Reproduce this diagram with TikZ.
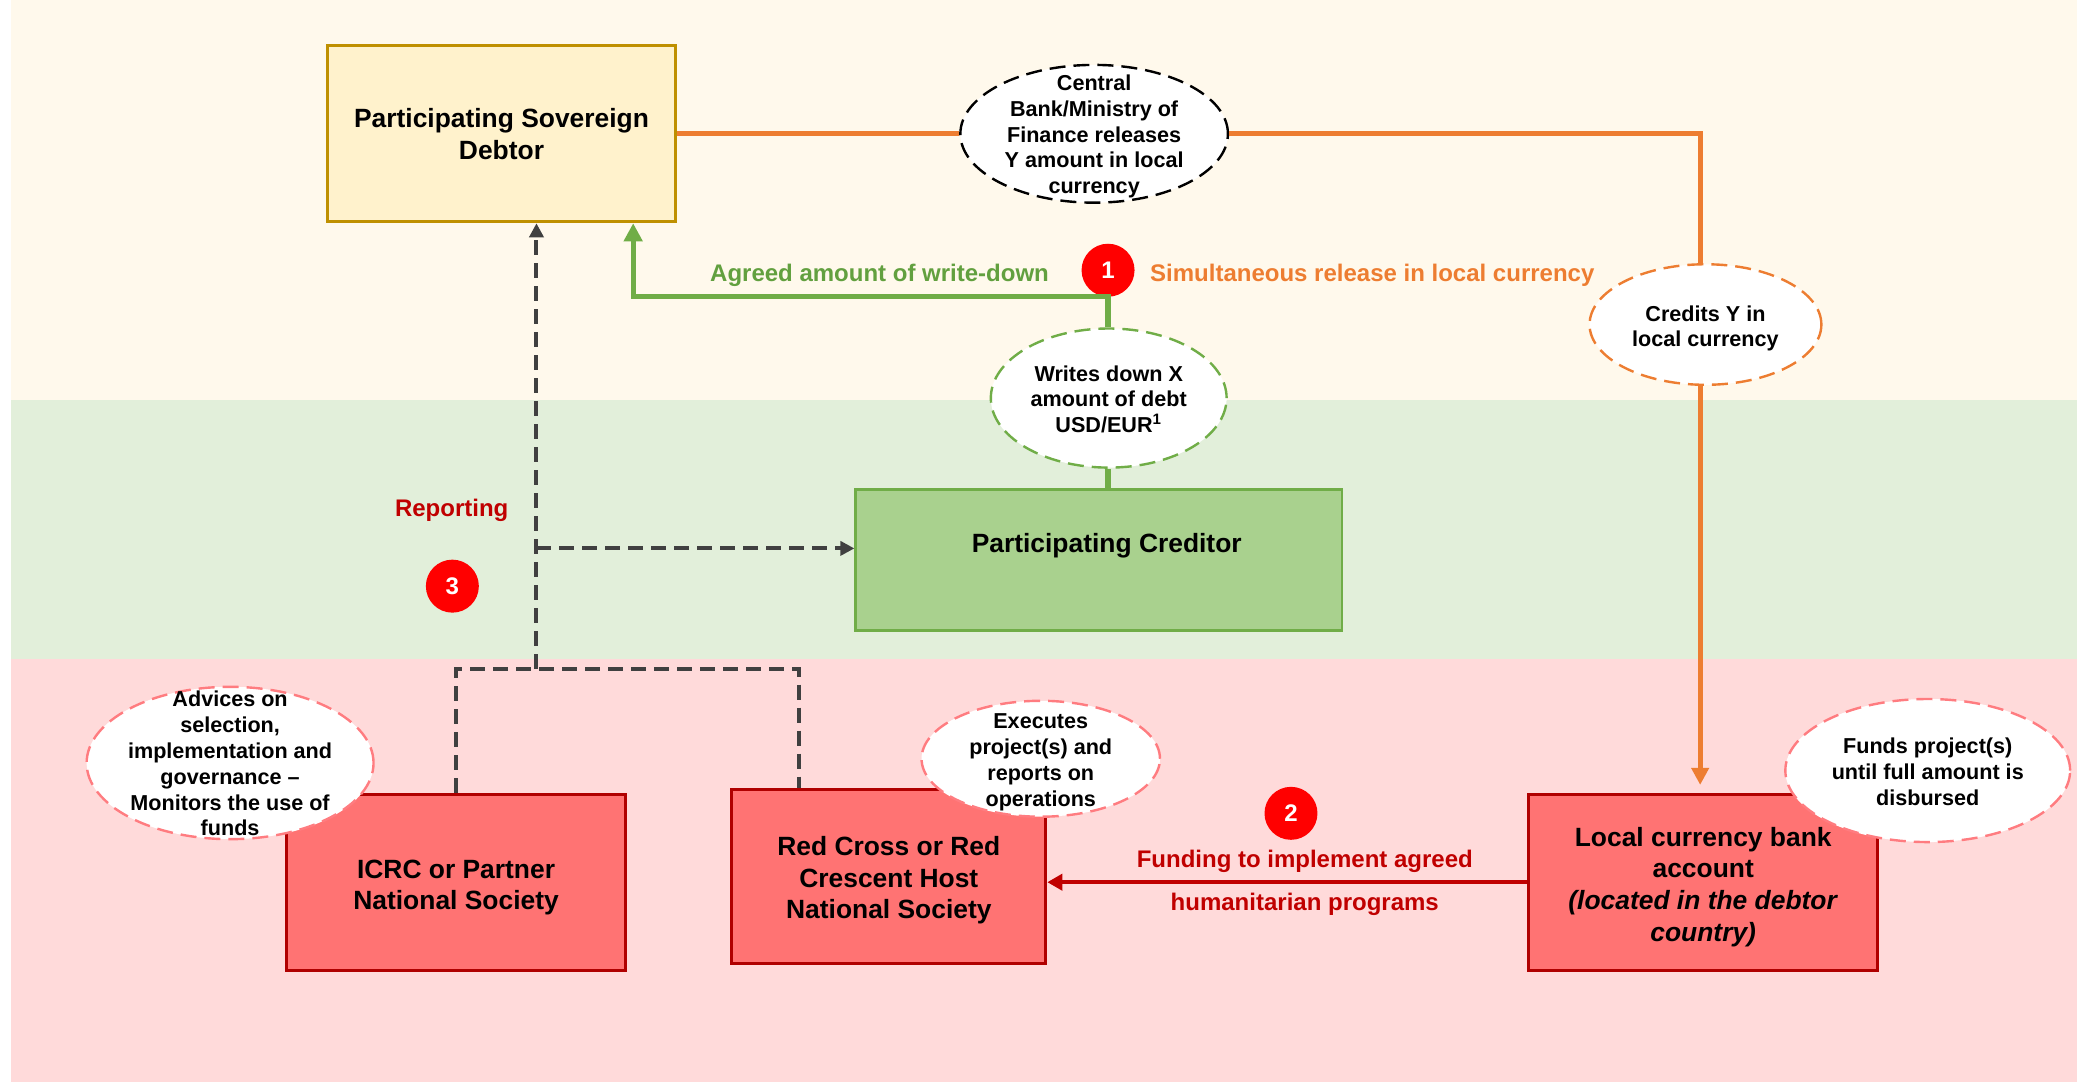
\documentclass[tikz,border=0pt]{standalone}
\usepackage{fontspec}
\setmainfont{Liberation Sans}
\usetikzlibrary{arrows.meta,shapes.geometric,calc}
\definecolor{creamband}{HTML}{FFF9EC}
\definecolor{greenband}{HTML}{E2EFDA}
\definecolor{pinkband}{HTML}{FFDADA}
\definecolor{debtorfill}{HTML}{FFF2CC}
\definecolor{debtorline}{HTML}{BF9000}
\definecolor{credfill}{HTML}{A9D18E}
\definecolor{credline}{HTML}{70AD47}
\definecolor{redfill}{HTML}{FF7373}
\definecolor{redline}{HTML}{B00000}
\definecolor{pinkline}{HTML}{FF7C80}
\definecolor{orangeline}{HTML}{ED7D31}
\definecolor{greentext}{HTML}{62A03F}
\definecolor{darkred}{HTML}{C00000}
\definecolor{repgray}{HTML}{404040}
\definecolor{numred}{HTML}{FF0000}
\newcommand{\pxu}{0.6623pt}
\begin{document}
\begin{tikzpicture}[x=0.6623pt, y=-0.6623pt,
  boxnode/.style={draw, line width=1.5pt, align=center, inner sep=0pt,
    font=\bfseries\fontsize{13.2}{15.8}\selectfont},
  ellnode/.style={ellipse, draw, fill=white, line width=1.2pt,
    dash pattern=on 8pt off 4pt, inner sep=0pt},
  elltext/.style={align=center, inner sep=0pt,
    font=\bfseries\fontsize{10.8}{12.9}\selectfont},
  numnode/.style={circle, fill=numred, text=white, minimum size=40*\pxu,
    inner sep=0pt, font=\bfseries\fontsize{12}{14}\selectfont},
  lbl/.style={inner sep=0pt, font=\bfseries\fontsize{12}{14}\selectfont},
  repline/.style={draw=repgray, line width=2pt, dash pattern=on 7.5pt off 4pt},
  orangeconn/.style={draw=orangeline, line width=2.5pt},
  greenconn/.style={draw=credline, line width=2.6pt},
]
\useasboundingbox (0,0) rectangle (1568,818);
% background bands
\fill[creamband] (8,0) rectangle (1568,302);
\fill[greenband] (8,302) rectangle (1568,497.5);
\fill[pinkband] (8,497.5) rectangle (1568,817);

% boxes
\node[boxnode, fill=debtorfill, draw=debtorline, line width=1.4pt,
  minimum width=263*\pxu, minimum height=133*\pxu] (debtor) at (378.6,101)
  {Participating Sovereign\\Debtor};
\node[boxnode, fill=credfill, draw=credline, line width=1.3pt,
  minimum width=367*\pxu, minimum height=106.6*\pxu] (creditor) at (829.5,422.7) {};
\node[boxnode, draw=none] (credtext) at (835.5,412) {Participating Creditor};
\node[boxnode, fill=redfill, draw=redline,
  minimum width=256*\pxu, minimum height=132.6*\pxu] (icrc) at (344.3,666) {};
\node[boxnode, draw=none] (icrctext) at (344.3,670) {ICRC or Partner\\National Society};
\node[boxnode, fill=redfill, draw=redline,
  minimum width=237*\pxu, minimum height=132*\pxu] (redcross) at (671,661.7) {};
\node[boxnode, draw=none] (redcrosstext) at (671,664.7) {Red Cross or Red\\Crescent Host\\National Society};
\node[boxnode, fill=redfill, draw=redline,
  minimum width=263.5*\pxu, minimum height=132.6*\pxu] (bank) at (1285.8,666) {};
\node[boxnode, draw=none] (banktext) at (1285.8,669.5)
  {Local currency bank\\account\\\textit{(located in the debtor}\\\textit{country)}};

% ellipses
\node[ellnode, draw=black, minimum width=202*\pxu, minimum height=104*\pxu] (cb) at (826,101) {};
\node[elltext] (cbt) at (826,103) {Central\\Bank/Ministry of\\Finance releases\\Y amount in local\\currency};
\node[ellnode, draw=orangeline, minimum width=175*\pxu, minimum height=91*\pxu] (credY) at (1287.5,245) {};
\node[elltext] (credYt) at (1287.5,248) {Credits Y in\\local currency};
\node[ellnode, draw=credline, minimum width=178*\pxu, minimum height=105*\pxu] (writes) at (837,300.5) {};
\node[elltext] (writest) at (837,301.5) {Writes down X\\amount of debt\\USD/EUR\textsuperscript{1}};
\node[ellnode, draw=pinkline, minimum width=216.6*\pxu, minimum height=115*\pxu] (adv) at (173.7,576) {};
\node[elltext] (advt) at (173.7,576.5) {Advices on\\selection,\\implementation and\\governance –\\Monitors the use of\\funds};
\node[ellnode, draw=pinkline, minimum width=180*\pxu, minimum height=87.5*\pxu] (exec) at (785.7,572.8) {};
\node[elltext] (exect) at (785.7,575.5) {Executes\\project(s) and\\reports on\\operations};
\node[ellnode, draw=pinkline, minimum width=215*\pxu, minimum height=108*\pxu] (funds) at (1455.3,581.7) {};
\node[elltext] (fundst) at (1455.3,582.5) {Funds project(s)\\until full amount is\\disbursed};

% number markers
\node[numnode] (c1) at (836.5,204) {1};
\node[numnode] (c2) at (974.6,614) {2};
\node[numnode] (c3) at (341.5,442.5) {3};

% labels
\node[lbl, text=greentext] (agreed) at (664,208) {Agreed amount of write-down};
\node[lbl, text=orangeline, anchor=west] (simul) at (868,208) {Simultaneous release in local currency};
\node[lbl, text=darkred] (reporting) at (341,385.5) {Reporting};
\node[lbl, text=darkred] (fund1) at (985,650) {Funding to implement agreed};
\node[lbl, text=darkred] (fund2) at (985,682.5) {humanitarian programs};

% helper coordinates
\coordinate (oc) at (1283.5,101);
\coordinate (j1) at (836.5,224);
\coordinate (jr) at (405,505);
\coordinate (jc) at (405,414);
\coordinate (rcTop) at ([xshift=-67.5*\pxu]redcross.north);

% orange flow
\draw[orangeconn] (debtor.east) -- (cb.west);
\draw[orangeconn] (cb.east) -| (credY.north -| oc);
\draw[orangeconn, -{Triangle[width=8.5pt,length=8.5pt]}, shorten >=4pt]
  (credY.south -| oc) -- (bank.north -| oc);

% green flow
\draw[greenconn, -{Triangle[width=9pt,length=9pt]}]
  (writes.north -| j1) -- (j1) -| ([xshift=99.4*\pxu]debtor.south);
\draw[greenconn] (writes.south -| j1) -- (creditor.north -| j1);

% reporting (dashed)
\draw[repline] (icrc.north) |- (jr) -| (rcTop);
\draw[repline, -{Triangle[width=7pt,length=7pt]}] (jr) -- (jr |- debtor.south);
\draw[repline, -{Triangle[width=7pt,length=7pt]}] (jc) -- (jc -| creditor.west);

% funding (dark red)
\draw[draw=darkred, line width=2pt, -{Triangle[width=8pt,length=7.5pt]}]
  (bank.west) -- (bank.west -| redcross.east);
\end{tikzpicture}
\end{document}
